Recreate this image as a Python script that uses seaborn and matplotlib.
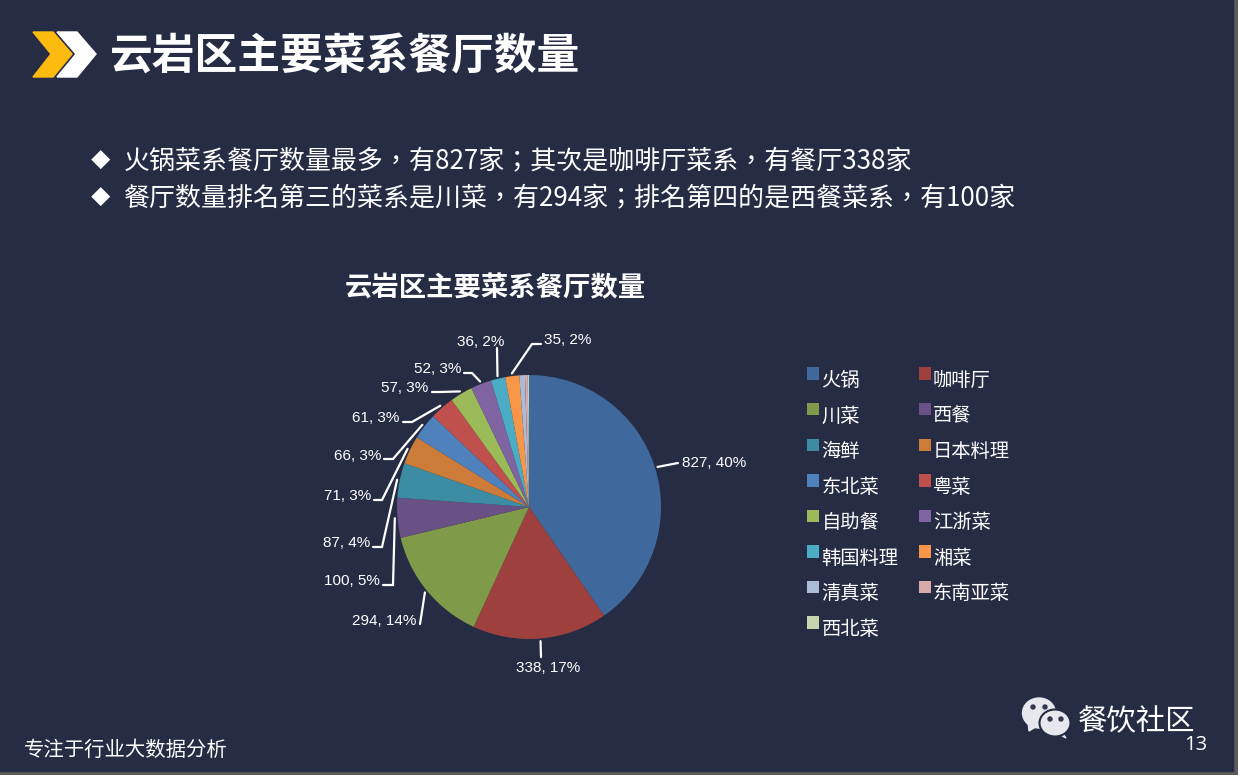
import numpy as np
import matplotlib.pyplot as plt
import seaborn as sns
from matplotlib.legend_handler import HandlerPatch
from matplotlib.patches import Ellipse, Polygon, Rectangle

# Values
cuisines = ['火锅', '咖啡厅', '川菜', '西餐', '海鲜', '日本料理', '东北菜', '粤菜',
            '自助餐', '江浙菜', '韩国料理', '湘菜', '清真菜', '东南亚菜', '西北菜']
counts = [827, 338, 294, 100, 87, 71, 66, 61, 57, 52, 36, 35, 14, 7, 3]
colors = ['#3F689C', '#9E413E', '#7F9A48', '#695185', '#3C8DA3', '#CC7B38', '#4F81BD', '#C0504D',
          '#9BBB59', '#8064A2', '#4BACC6', '#F79646', '#AABAD7', '#D9AAA9', '#C6D6AC']

title = '云岩区主要菜系餐厅数量'
bullets = ['火锅菜系餐厅数量最多，有827家；其次是咖啡厅菜系，有餐厅338家',
           '餐厅数量排名第三的菜系是川菜，有294家；排名第四的是西餐菜系，有100家']

# Leader lines: elbow point and label anchor in pixels, only the first 12 slices are labelled
elbows = [(678, 463), (541, 657), (420, 624), (393, 585), (382, 547), (382, 500),
          (393, 459), (412, 422), (440, 392), (472, 373), (497, 348), (532, 344)]
ends = [(678, 463), (541, 657), (420, 624), (383, 585), (373, 547), (374, 500),
        (384, 459), (403, 422), (432, 392), (464, 373), (497, 348), (541, 344)]
label_pos = [(682, 462, 'left'), (548, 667, 'center'), (416, 620, 'right'), (380, 580, 'right'),
             (370, 542, 'right'), (371, 495, 'right'), (381, 455, 'right'), (399, 417, 'right'),
             (428, 387, 'right'), (461, 368, 'right'), (481, 341, 'center'), (544, 339, 'left')]

BG = '#272C45'
sns.set_theme(style='dark')
plt.rcParams['font.family'] = ['Noto Sans CJK SC', 'DejaVu Sans']

fig = plt.figure(figsize=(12.38, 7.75), dpi=100, facecolor='#5A5A5A')

# Overlay in pixel coordinates for the slide furniture
bg = fig.add_axes([0, 0, 1, 1])
bg.set_xlim(0, 1238)
bg.set_ylim(775, 0)
bg.axis('off')
bg.add_patch(Rectangle((0, 0), 1233, 771, color=BG, zorder=0))

# Header chevrons
bg.add_patch(Polygon([(33, 32), (53, 32), (72, 54), (53, 77), (33, 77), (51, 54)], color='#FDBB0F'))
bg.add_patch(Polygon([(57, 32), (77, 32), (96, 54), (77, 77), (57, 77), (76, 54)], color='white'))
bg.text(110, 56, title, color='white', fontsize=30.8, fontweight='bold', va='center')

# TC cut has the centred comma of the original
for y, line in zip([162, 199], bullets):
    bg.text(91, y - 1, '◆', color='white', fontsize=14, va='center')
    bg.text(124, y, line, color='white', fontsize=18.7, va='center', family='Noto Sans CJK TC')

bg.text(495.5, 288, title, color='white', fontsize=19.7, fontweight='bold', ha='center', va='center')

# Pie
ax = fig.add_axes([397 / 1238, 1 - 639 / 775, 264 / 1238, 264 / 775])
wedges, _ = ax.pie(counts, colors=sns.color_palette(colors), startangle=90, counterclock=False,
                   radius=1, wedgeprops={'linewidth': 0})
ax.set_xlim(-1, 1)
ax.set_ylim(-1, 1)

# Leader lines and value labels
total = sum(counts)
for i, wedge in enumerate(wedges[:12]):
    mid = np.deg2rad((wedge.theta1 + wedge.theta2) / 2)
    start = ax.transData.transform((1.02 * np.cos(mid), 1.02 * np.sin(mid)))
    start = bg.transData.inverted().transform(start)
    bg.plot([start[0], elbows[i][0], ends[i][0]], [start[1], elbows[i][1], ends[i][1]],
            color='white', lw=1.6, solid_joinstyle='miter')
    x, y, ha = label_pos[i]
    bg.text(x, y + 1, f'{counts[i]}, {round(counts[i] / total * 100)}%', color='white',
            fontsize=11, family='Liberation Sans', ha=ha, va='center')


def square(legend, orig_handle, xdescent, ydescent, width, height, fontsize):
    # squares sit a little above the text line in the original
    return Rectangle((-xdescent, -ydescent + 4), width, height)


# Matplotlib fills legend columns first, the original reads row by row
order = list(range(0, 15, 2)) + list(range(1, 15, 2))
leg = fig.legend([wedges[i] for i in order], [cuisines[i] for i in order], ncol=2,
                 loc='upper left', bbox_to_anchor=(807 / 1238, 1 - 370 / 775),
                 frameon=False, fontsize=13.9, labelcolor='white', borderpad=0, borderaxespad=0,
                 handlelength=0.62, handleheight=0.62, handletextpad=0.125,
                 labelspacing=0.755, columnspacing=1.045,
                 handler_map={wedges[i]: HandlerPatch(patch_func=square) for i in range(15)})

# Footer
bg.text(24, 750, '专注于行业大数据分析', color='white', fontsize=14.7, va='center')
bg.text(1078, 722, '餐饮社区', color='white', fontsize=21.2, va='center')
bg.text(1184, 745, '13', color='white', fontsize=14.5, va='center', family='Open Sans')

# WeChat style logo
logo = '#E6E8EE'
bg.add_patch(Polygon([(1028, 722), (1029, 731), (1039, 725)], color=logo, zorder=3))
bg.add_patch(Ellipse((1039, 713), 33, 30, color=logo, zorder=3))
bg.add_patch(Polygon([(1060, 730), (1066, 738), (1057, 733)], color=logo, zorder=4))
bg.add_patch(Ellipse((1055, 723), 31, 27, facecolor=logo, edgecolor=BG, lw=1.5, zorder=4))
for x, y, z in [(1033, 707, 5), (1045, 707, 5), (1050, 719, 5), (1061, 719, 5)]:
    bg.add_patch(Ellipse((x, y), 4, 4, color='#33374D', zorder=z))

fig.savefig('out.png', dpi=100, facecolor=fig.get_facecolor())
plt.close(fig)
